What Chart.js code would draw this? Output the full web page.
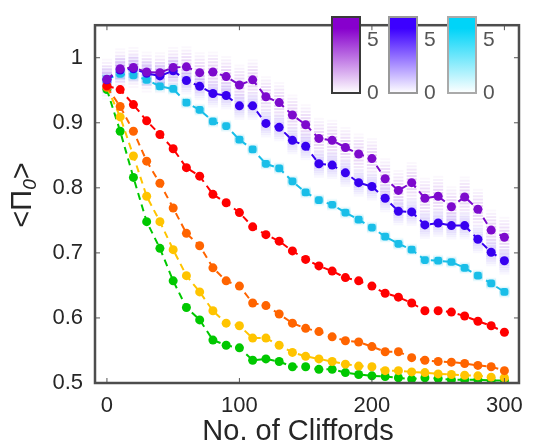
<!DOCTYPE html>
<html>
<head>
<meta charset="utf-8">
<script src="https://cdn.jsdelivr.net/npm/chart.js@4.4.1/dist/chart.umd.min.js"></script>
<style>
  html, body { margin: 0; padding: 0; background: #fff; }
  #wrap { width: 535px; height: 446px; }
</style>
</head>
<body>
<div id="wrap"><canvas id="chart"></canvas></div>
<script>
// number of Cliffords
const cliffords = [0, 10, 20, 30, 40, 50, 60, 70, 80, 90, 100, 110, 120, 130, 140, 150,
                   160, 170, 180, 190, 200, 210, 220, 230, 240, 250, 260, 270, 280, 290, 300];

const purpleVals = [0.967, 0.983, 0.985, 0.978, 0.977, 0.985, 0.986, 0.977, 0.978, 0.971, 0.958,
                    0.966, 0.940, 0.931, 0.912, 0.897, 0.876, 0.873, 0.862, 0.852, 0.845,
                    0.814, 0.796, 0.808, 0.784, 0.787, 0.771, 0.786, 0.767, 0.735, 0.724];
const blueVals = [0.966, 0.981, 0.983, 0.976, 0.972, 0.980, 0.965, 0.956, 0.945, 0.942, 0.926,
                  0.926, 0.899, 0.893, 0.873, 0.864, 0.837, 0.835, 0.823, 0.808, 0.802,
                  0.784, 0.764, 0.763, 0.743, 0.746, 0.742, 0.742, 0.721, 0.701, 0.688];
const cyanVals = [0.967, 0.975, 0.973, 0.966, 0.956, 0.952, 0.931, 0.920, 0.902, 0.895, 0.874,
                  0.859, 0.837, 0.830, 0.810, 0.793, 0.781, 0.774, 0.762, 0.751, 0.739,
                  0.725, 0.714, 0.705, 0.689, 0.688, 0.686, 0.677, 0.665, 0.653, 0.640];
const redVals = [0.957, 0.951, 0.928, 0.903, 0.882, 0.860, 0.831, 0.818, 0.790, 0.777, 0.762,
                 0.740, 0.728, 0.718, 0.703, 0.690, 0.680, 0.672, 0.662, 0.657, 0.649,
                 0.638, 0.632, 0.623, 0.611, 0.611, 0.609, 0.603, 0.595, 0.588, 0.578];
const orangeVals = [0.955, 0.925, 0.887, 0.841, 0.807, 0.769, 0.730, 0.711, 0.677, 0.657, 0.649,
                    0.623, 0.619, 0.606, 0.592, 0.584, 0.579, 0.571, 0.565, 0.563, 0.556,
                    0.548, 0.548, 0.539, 0.535, 0.533, 0.532, 0.530, 0.527, 0.525, 0.519];
const yellowVals = [0.955, 0.909, 0.849, 0.787, 0.748, 0.705, 0.665, 0.640, 0.611, 0.592, 0.588,
                    0.569, 0.569, 0.558, 0.547, 0.541, 0.537, 0.533, 0.529, 0.526, 0.525,
                    0.519, 0.519, 0.517, 0.516, 0.514, 0.513, 0.512, 0.511, 0.509, 0.508];
const greenVals = [0.951, 0.887, 0.816, 0.748, 0.707, 0.657, 0.616, 0.597, 0.566, 0.558, 0.554,
                   0.535, 0.537, 0.533, 0.525, 0.525, 0.521, 0.521, 0.516, 0.513, 0.511,
                   0.510, 0.508, 0.506, 0.508, 0.507, 0.505, 0.505, 0.505, 0.504, 0.504];

// half-height of the faint distribution behind purple / blue / cyan
const purpleSpread = 0.03;
const blueSpread = 0.02;
const cyanSpread = 0.008;

const xTicks = [0, 100, 200, 300];
const yTicks = [0.5, 0.6, 0.7, 0.8, 0.9, 1];
const yTickLabels = ['0.5', '0.6', '0.7', '0.8', '0.9', '1'];

const TXT = '#262626';
const FONT = '"Liberation Sans", Arial, sans-serif';

function pts(vals) {
    return vals.map((v, i) => ({ x: cliffords[i], y: v }));
}

function serie(vals, color, style, spread) {
    return {
        data: pts(vals),
        borderColor: color,
        backgroundColor: color,
        borderWidth: 2,
        borderDash: [7, 5],
        pointStyle: style,
        pointRadius: 4.5,
        pointBorderWidth: 0,
        tension: 0,
        spread: spread
    };
}

const ghosts = {
    id: 'ghosts',
    beforeDatasetsDraw(chart) {
        const { ctx, scales: { x, y } } = chart;
        ctx.save();
        chart.data.datasets.forEach(ds => {
            if (!ds.spread) return;
            ds.data.forEach(p => {
                const px = x.getPixelForValue(p.x);
                for (let k = -6; k <= 6; k++) {
                    const py = y.getPixelForValue(p.y + ds.spread * k / 6);
                    ctx.globalAlpha = 0.22 * (1 - Math.abs(k) / 7);
                    ctx.fillStyle = ds.borderColor;
                    ctx.fillRect(px - 5, py - 1, 10, 2);
                }
            });
        });
        ctx.restore();
    }
};

function colorbar(ctx, left, color, edge) {
    const top = 17, w = 28, h = 76;
    const g = ctx.createLinearGradient(0, top, 0, top + h);
    g.addColorStop(0, color);
    g.addColorStop(0.15, color);
    g.addColorStop(1, '#ffffff');
    ctx.fillStyle = g;
    ctx.fillRect(left, top, w, h);
    ctx.strokeStyle = edge;
    ctx.lineWidth = 2;
    ctx.strokeRect(left, top, w, h);
    ctx.fillStyle = '#555';
    ctx.font = '21px ' + FONT;
    ctx.textAlign = 'left';
    ctx.textBaseline = 'middle';
    ctx.fillText('5', left + w + 7, 40);
    ctx.fillText('0', left + w + 7, 93);
}

const frame = {
    id: 'frame',
    afterDraw(chart) {
        const { ctx, chartArea: a, scales: { x, y } } = chart;
        ctx.save();
        ctx.strokeStyle = '#555';
        ctx.lineWidth = 1;
        ctx.beginPath();
        xTicks.forEach(v => {
            const px = x.getPixelForValue(v);
            ctx.moveTo(px, a.bottom); ctx.lineTo(px, a.bottom - 5);
            ctx.moveTo(px, a.top); ctx.lineTo(px, a.top + 5);
        });
        yTicks.forEach(v => {
            const py = y.getPixelForValue(v);
            ctx.moveTo(a.left, py); ctx.lineTo(a.left + 5, py);
            ctx.moveTo(a.right, py); ctx.lineTo(a.right - 5, py);
        });
        ctx.stroke();
        ctx.lineWidth = 2.5;
        ctx.strokeStyle = '#4d4d4d';
        ctx.strokeRect(a.left, a.top, a.right - a.left, a.bottom - a.top);

        colorbar(ctx, 332, 'rgb(135,0,205)', '#3a3a3a');
        colorbar(ctx, 389, 'rgb(60,0,255)', '#999');
        colorbar(ctx, 448, 'rgb(0,212,248)', '#aaa');

        // axis titles
        ctx.fillStyle = TXT;
        ctx.textBaseline = 'middle';
        ctx.textAlign = 'center';
        ctx.font = '29px ' + FONT;
        ctx.fillText('No. of Cliffords', 298, 432);

        ctx.translate(23, 195);
        ctx.rotate(-Math.PI / 2);
        const big = '29px ' + FONT, small = 'italic 19px ' + FONT;
        ctx.font = big;
        const w1 = ctx.measureText('<Π').width, w3 = ctx.measureText('>').width;
        ctx.font = small;
        const w2 = ctx.measureText('0').width;
        let cx = -(w1 + w2 + w3) / 2;
        ctx.textAlign = 'left';
        ctx.font = big;
        ctx.fillText('<Π', cx, 0);
        cx += w1;
        ctx.font = small;
        ctx.fillText('0', cx, 8);
        cx += w2;
        ctx.font = big;
        ctx.fillText('>', cx, 0);
        ctx.restore();
    }
};

new Chart(document.getElementById('chart'), {
    type: 'line',
    data: {
        datasets: [
            serie(purpleVals, 'rgb(125,10,205)', 'circle', purpleSpread),
            serie(blueVals, 'rgb(55,0,240)', 'circle', blueSpread),
            serie(cyanVals, 'rgb(25,190,232)', 'rectRounded', cyanSpread),
            serie(redVals, 'rgb(255,0,0)', 'circle', 0),
            serie(orangeVals, 'rgb(255,100,0)', 'circle', 0),
            serie(yellowVals, 'rgb(255,196,0)', 'circle', 0),
            serie(greenVals, 'rgb(0,200,0)', 'circle', 0)
        ]
    },
    options: {
        responsive: true,
        maintainAspectRatio: false,
        animation: false,
        layout: { padding: { top: 5, right: 7, left: 0, bottom: 0 } },
        plugins: { legend: { display: false }, tooltip: { enabled: false } },
        scales: {
            x: {
                type: 'linear',
                min: -9,
                max: 311,
                grid: { display: false, drawTicks: false, tickLength: 0 },
                border: { display: false },
                afterFit(scale) { scale.height = 63; },
                afterBuildTicks(scale) { scale.ticks = xTicks.map(v => ({ value: v })); },
                ticks: { color: TXT, font: { size: 22, family: FONT, lineHeight: 1 }, padding: 12, maxRotation: 0 }
            },
            y: {
                min: 0.5,
                max: 1.05,
                grid: { display: false, drawTicks: false, tickLength: 0 },
                border: { display: false },
                afterFit(scale) { scale.width = 95; },
                afterBuildTicks(scale) { scale.ticks = yTicks.map(v => ({ value: v })); },
                ticks: {
                    color: TXT, font: { size: 22, family: FONT }, padding: 12,
                    callback: (v, i) => yTickLabels[i]
                }
            }
        }
    },
    plugins: [ghosts, frame]
});
</script>
</body>
</html>
